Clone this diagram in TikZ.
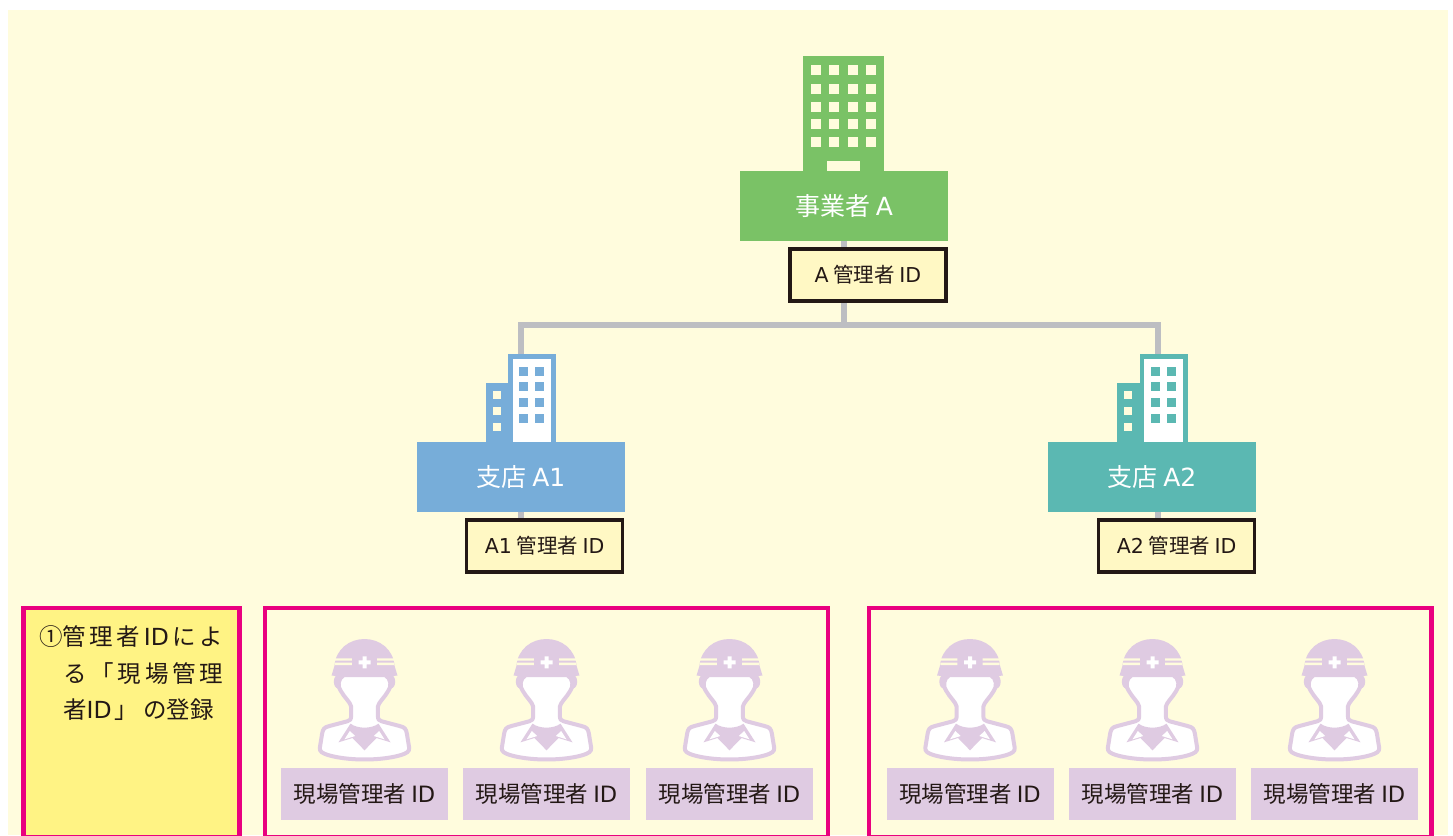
\documentclass[tikz,border=0pt]{standalone}
\usepackage{fontspec}
\setmainfont{Noto Sans CJK JP}
\newfontfamily\lat{DejaVu Sans}
\definecolor{paper}{HTML}{FFFCDD}
\definecolor{linegray}{HTML}{BDBEC2}
\definecolor{hqgreen}{HTML}{7AC266}
\definecolor{bluebr}{HTML}{77ADD9}
\definecolor{tealbr}{HTML}{5BB8B2}
\definecolor{idyellow}{HTML}{FFF8C4}
\definecolor{notey}{HTML}{FFF384}
\definecolor{framepink}{HTML}{E9007F}
\definecolor{lilac}{HTML}{DFCBE2}
\definecolor{inkblack}{HTML}{231815}
\tikzset{
  officebox/.style={minimum width=208pt, minimum height=70pt, inner sep=0pt, text=white, font=\fontsize{25}{25}\selectfont},
  adminid/.style={draw=inkblack, line width=3.4pt, fill=idyellow, minimum width=156pt, minimum height=52pt, inner sep=0pt, text=inkblack, font=\fontsize{20.5}{20.5}\selectfont},
  siteid/.style={fill=lilac, minimum width=167pt, minimum height=52pt, inner sep=0pt, text=inkblack, font=\fontsize{22.5}{22.5}\selectfont},
  tree/.style={draw=linegray, line width=6.5pt, line join=miter},
  frame/.style={draw=framepink, line width=4.5pt},
  pics/worker/.style={code={
    \begin{scope}[x=0.3333pt, y=-0.3333pt]
      % ears
      \fill[lilac] (-80,170) ellipse (12 and 20);
      \fill[lilac] (80,170) ellipse (12 and 20);
      % shoulders and head
      \draw[draw=lilac, fill=white, line width=4pt, line join=round]
        (-62,150) .. controls (-80,160) and (-82,185) .. (-71,198)
        .. controls (-60,218) and (-42,232) .. (-40,245) -- (-40,272)
        .. controls (-40,284) and (-44,287) .. (-52,289) -- (-105,303)
        .. controls (-122,307) and (-124,312) .. (-127,325) -- (-134,368)
        .. controls (-136,380) and (-125,385) .. (-110,390)
        .. controls (-50,408) and (50,408) .. (110,390)
        .. controls (125,385) and (136,380) .. (134,368) -- (127,325)
        .. controls (124,312) and (122,307) .. (105,303) -- (52,289)
        .. controls (44,287) and (40,284) .. (40,272) -- (40,245)
        .. controls (42,232) and (60,218) .. (71,198)
        .. controls (82,185) and (80,160) .. (62,150) -- cycle;
      % collar
      \fill[lilac] (-42,296) -- (-78,352) -- (-36,339) -- (0,376)
        -- (36,339) -- (78,352) -- (42,296)
        .. controls (20,312) and (-20,312) .. (-42,296) -- cycle;
      \fill[white] (-44,318) -- (-60,343) -- (-28,333) -- cycle;
      \fill[white] (44,318) -- (60,343) -- (28,333) -- cycle;
      % helmet
      \fill[lilac] (-99,152) -- (-90,122) .. controls (-86,72) and (-45,42) .. (0,42)
        .. controls (45,42) and (86,72) .. (90,122) -- (99,152)
        .. controls (50,154) and (-50,154) .. (-99,152) -- cycle;
      \fill[paper] (-89,100) rectangle (-38,107) (-89,113) rectangle (-38,120);
      \fill[paper] (38,100) rectangle (89,107) (38,113) rectangle (89,120);
      \fill[white] (-6,94) rectangle (6,130) (-18,106) rectangle (18,118);
    \end{scope}
  }},
  pics/branchtower/.style={code={
    \fill[#1] (-35.5,-59.3) rectangle (-13,0);
    \foreach \wy in {-47.3,-31.3,-15.3} \fill[paper] (-24.3,\wy) ++(-4,-4) rectangle ++(8,8);
    \fill[#1] (-13,-88) rectangle (35,0);
    \fill[white] (-8.3,-82.7) rectangle (30,0);
    \foreach \wy in {-70.5,-55.5,-39.5,-23.5} \foreach \wx in {2.5,18.5} \fill[#1] (\wx,\wy) ++(-4.5,-4.5) rectangle ++(9,9);
  }}
}
\begin{document}
\begin{tikzpicture}[x=1pt, y=-1pt]
\useasboundingbox (0,0) rectangle (1453,835);
\fill[paper] (8,10) rectangle (1447.5,835);

% connectors
\coordinate (bus) at (844,325);
\coordinate (busleft) at (520.8,325);
\coordinate (busright) at (1158,325);
\coordinate (topleft) at (520.8,380);
\coordinate (topright) at (1158,380);
\coordinate (stemleft) at (520.8,540);
\coordinate (stemright) at (1158,540);

\node[officebox, fill=hqgreen] (hq) at (844,206) {事業者 {\lat A}};
\node[officebox, fill=bluebr] (bra) at (521,477) {支店 {\lat A1}};
\node[officebox, fill=tealbr] (brb) at (1152,477) {支店 {\lat A2}};

\draw[tree] (hq) -- (bus);
\draw[tree] (topleft) -- (busleft) -- (busright) -- (topright);
\draw[tree] (stemleft) -- (stemleft |- bra.south);
\draw[tree] (stemright) -- (stemright |- brb.south);

\node[adminid] (ida) at (868,275) {{\lat A} 管理者 {\lat ID}};
\node[adminid] (idb) at (544.7,546) {{\lat A1} 管理者 {\lat ID}};
\node[adminid] (idc) at (1176.7,546) {{\lat A2} 管理者 {\lat ID}};

% head office tower
\fill[hqgreen] (803.3,56) rectangle (884,171);
\foreach \wy in {70.3,88.7,107,124.3,141.7} \foreach \wx in {816,834.3,852.7,871} \fill[paper] (\wx,\wy) ++(-5,-5) rectangle ++(10,10);
\fill[paper] (827.3,161) rectangle (860,171);

% branch towers
\pic at (521,442) {branchtower=bluebr};
\pic at (1152.7,442) {branchtower=tealbr};

% frames
\draw[frame, fill=notey] (23.3,608) rectangle (239.5,836.8);
\draw[frame] (265,608) rectangle (828,836.8);
\draw[frame] (869,608) rectangle (1431.5,836.8);

\node[anchor=north west, inner sep=0pt, text=inkblack, font=\fontsize{23.5}{36.5}\selectfont, align=left] (note) at (39,625.5)
  {\makebox[184pt][s]{①管 理 者 {\lat ID} に よ}\\
   \hspace{24pt}\makebox[160pt][s]{る 「 現 場 管 理}\\
   \hspace{24pt}者{\lat ID}\hspace{3pt}」\hspace{5pt}の登録};

% workers
\foreach \wn/\wx in {a/364.5,b/546.5,c/729.5,d/970,e/1152.5,f/1334.5}{
  \pic at (\wx,625) {worker};
  \node[siteid] (site\wn) at (\wx,794) {現場管理者 {\lat ID}};
}
\end{tikzpicture}
\end{document}
